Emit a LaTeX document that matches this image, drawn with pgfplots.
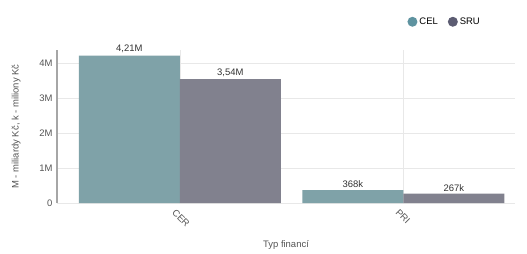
\documentclass[border=0pt]{standalone}
\usepackage{fontspec}
\setmainfont{Liberation Sans}
\usepackage{pgfplots}
\usepackage{pgfplotstable}
\pgfplotsset{compat=1.18}
\definecolor{celbar}{HTML}{7FA2A8}
\definecolor{srubar}{HTML}{81818E}
\definecolor{celdot}{HTML}{5E93A0}
\definecolor{srudot}{HTML}{5C5C72}
\definecolor{txt}{HTML}{555555}
\definecolor{gridc}{HTML}{E8E8E8}
\pgfplotstableread{
x y lab
0 4.21 4,21M
1 0.368 368k
}\celdata
\pgfplotstableread{
x y lab
0 3.54 3,54M
1 0.267 267k
}\srudata
\begin{document}
\begin{tikzpicture}[x=1bp,y=1bp]
\useasboundingbox (0,0) rectangle (527,253);
\begin{axis}[
  at={(57bp,50bp)}, anchor=south west,
  scale only axis, width=458bp, height=153bp,
  font=\fontsize{9.5}{11}\selectfont,
  ybar=0pt, bar width=101bp,
  xmin=-0.55, xmax=1.5, ymin=0, ymax=4.37,
  xtick={0,1}, xticklabels={CER,PRI},
  ytick={0,1,2,3,4}, yticklabels={0,1M,2M,3M,4M},
  /pgf/number format/assume math mode=true,
  xticklabel style={rotate=-45, anchor=north west, text=txt, xshift=-2bp, yshift=-3bp},
  yticklabel style={text=txt, xshift=-1bp},
  major tick length=0pt,
  axis x line*=bottom, axis y line*=left,
  x axis line style={draw=gridc},
  y axis line style={draw=black!35, line width=1.2pt},
  grid=major, major grid style={draw=gridc, line width=0.6pt},
  xlabel={Typ financí}, ylabel={M - miliardy Kč, k - miliony Kč},
  xlabel style={text=txt, yshift=-5bp},
  ylabel style={text=txt, yshift=12bp},
  nodes near coords, point meta=explicit symbolic,
  every node near coord/.append style={text=black!80, font=\fontsize{9.5}{11}\selectfont, yshift=-1bp},
  legend style={at={(1,1)}, anchor=south east, draw=none, fill=none, legend columns=2,
    yshift=20bp, xshift=-30bp, font=\fontsize{9.5}{11}\selectfont,
    /tikz/every even column/.append style={column sep=8bp}},
  legend cell align=left,
]
\addplot[fill=celbar, draw=none, legend image code/.code={\fill[celdot] (0.15cm,0) circle (5bp);}] table[x=x,y=y,meta=lab] {\celdata};
\addplot[fill=srubar, draw=none, legend image code/.code={\fill[srudot] (0.15cm,0) circle (5bp);}] table[x=x,y=y,meta=lab] {\srudata};
\legend{CEL,SRU}
\end{axis}
\end{tikzpicture}
\end{document}
